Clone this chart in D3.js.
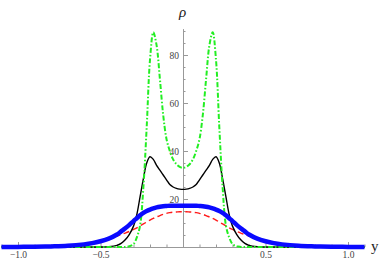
<!DOCTYPE html>
<html>
<head>
<meta charset="utf-8">
<script src="https://cdn.jsdelivr.net/npm/d3@7"></script>
<style>
  body { margin: 0; background: #fff; }
  .axis path, .axis line { stroke: #999; }
</style>
</head>
<body>
<div id="chart"></div>
<script>
// Chart size
var svgWidth = 382;
var svgHeight = 262;

// Sample positions along y (horizontal axis)
var xs = [-1.1, -1.0, -0.9, -0.8, -0.7, -0.6, -0.55, -0.5, -0.45, -0.4, -0.375, -0.35, -0.325, -0.3, -0.28, -0.26, -0.24, -0.22, -0.2, -0.18, -0.16, -0.14, -0.12, -0.1, -0.08, -0.06, -0.04, -0.02, 0,
          0.02, 0.04, 0.06, 0.08, 0.1, 0.12, 0.14, 0.16, 0.18, 0.2, 0.22, 0.24, 0.26, 0.28, 0.3, 0.325, 0.35, 0.375, 0.4, 0.45, 0.5, 0.55, 0.6, 0.7, 0.8, 0.9, 1.0, 1.1];

// Density values
var greenVals = [0, 0, 0, 0, 0, 0, 0, 0, 0, 0, 0, 0.05, 0.3, 1.2, 4, 9, 25, 50, 78, 89.5, 84, 70, 55, 45, 40, 36.5, 34.5, 33.4, 33,
                 33.4, 34.5, 36.5, 40, 45, 55, 70, 84, 89.5, 78, 50, 25, 9, 4, 1.2, 0.3, 0.05, 0, 0, 0, 0, 0, 0, 0, 0, 0, 0, 0];
var blackVals = [0, 0, 0, 0, 0, 0, 0, 0, 0.15, 0.7, 1.5, 3, 5.3, 8.7, 13.5, 21, 28.5, 35, 37.6, 36.5, 34, 32, 30, 28, 26, 25, 24.4, 24.1, 24,
                 24.1, 24.4, 25, 26, 28, 30, 32, 34, 36.5, 37.6, 35, 28.5, 21, 13.5, 8.7, 5.3, 3, 1.5, 0.7, 0.15, 0, 0, 0, 0, 0, 0, 0, 0];
var blueVals = [0, 0.05, 0.1, 0.25, 0.5, 1.1, 1.6, 2.4, 3.5, 5.2, 6.5, 7.8, 9.2, 10.8, 12.0, 13.2, 14.2, 15.0, 15.6, 16.1, 16.5, 16.8, 17.0, 17.1, 17.2, 17.2, 17.2, 17.2, 17.2,
                17.2, 17.2, 17.2, 17.2, 17.1, 17.0, 16.8, 16.5, 16.1, 15.6, 15.0, 14.2, 13.2, 12.0, 10.8, 9.2, 7.8, 6.5, 5.2, 3.5, 2.4, 1.6, 1.1, 0.5, 0.25, 0.1, 0.05, 0];
var redVals = [0.05, 0.1, 0.2, 0.4, 0.8, 1.4, 2.0, 2.7, 3.6, 4.6, 5.2, 5.8, 6.5, 7.3, 8.0, 8.8, 9.6, 10.4, 11.2, 11.9, 12.5, 13.1, 13.6, 14.0, 14.3, 14.5, 14.6, 14.7, 14.7,
               14.7, 14.6, 14.5, 14.3, 14.0, 13.6, 13.1, 12.5, 11.9, 11.2, 10.4, 9.6, 8.8, 8.0, 7.3, 6.5, 5.8, 5.2, 4.6, 3.6, 2.7, 2.0, 1.4, 0.8, 0.4, 0.2, 0.1, 0.05];

// Ticks
var xMajorTicks = [-1.0, -0.5, 0.5, 1.0];
var xTickLabels = ["\u22121.0", "\u22120.5", "0.5", "1.0"];
var yMajorTicks = [20, 40, 60, 80];

var svg = d3.select("#chart")
  .append("svg")
  .attr("width", svgWidth)
  .attr("height", svgHeight);

// Scales
var xScale = d3.scaleLinear().domain([-1.1, 1.1]).range([1.5, 364.5]);
var yScale = d3.scaleLinear().domain([0, 90]).range([247, 31]);

// Minor ticks
var xMinor = d3.range(-11, 12).map(d => d / 10).filter(d => Math.abs(d) > 0.01 && xMajorTicks.indexOf(d) < 0);
var yMinor = d3.range(5, 95, 5).filter(d => yMajorTicks.indexOf(d) < 0);

// X axis
var xAxisG = svg.append("g")
  .attr("class", "axis")
  .attr("transform", `translate(0, ${yScale(0)})`);

xAxisG.call(d3.axisBottom(xScale)
    .tickValues(xMajorTicks)
    .tickSizeInner(-5).tickSizeOuter(0).tickPadding(4)
    .tickFormat((d, i) => xTickLabels[i]));

xAxisG.append("g").call(d3.axisBottom(xScale)
    .tickValues(xMinor)
    .tickSizeInner(-2.5).tickSizeOuter(0)
    .tickFormat(""))
  .select(".domain").remove();

// Y axis
var yAxisG = svg.append("g")
  .attr("class", "axis")
  .attr("transform", `translate(${xScale(0)}, 0)`);

yAxisG.call(d3.axisLeft(d3.scaleLinear().domain([0, 91]).range([247, yScale(91)]))
    .tickValues(yMajorTicks)
    .tickSizeInner(-5).tickSizeOuter(0).tickPadding(4));

yAxisG.append("g").call(d3.axisLeft(yScale)
    .tickValues(yMinor)
    .tickSizeInner(-2.5).tickSizeOuter(0)
    .tickFormat(""))
  .select(".domain").remove();

// Serif tick labels like the original
svg.selectAll(".axis text")
  .attr("font-family", "Liberation Serif, serif")
  .attr("font-size", 9.5)
  .attr("fill", "#444");

// Curves
var series = [
  { vals: redVals, color: "#ff1a1a", width: 1.4, dash: "6,3.5" },
  { vals: blackVals, color: "#000", width: 1.4, dash: null },
  { vals: greenVals, color: "#22ee22", width: 2, dash: "5,2,1.5,2" },
  { vals: blueVals, color: "#0a0aff", width: 4.5, dash: null }
];

var line = d3.line()
  .x(d => xScale(d[0]))
  .y(d => yScale(d[1]))
  .curve(d3.curveCatmullRom.alpha(0.5));

svg.append("g").selectAll("path")
  .data(series)
  .enter()
  .append("path")
  .attr("d", s => line(xs.map((x, i) => [x, s.vals[i]])))
  .attr("fill", "none")
  .attr("stroke", s => s.color)
  .attr("stroke-width", s => s.width)
  .attr("stroke-dasharray", s => s.dash)
  .attr("stroke-linejoin", "round");

// Axis labels
svg.append("text")
  .attr("x", 371)
  .attr("y", 251)
  .attr("font-family", "Liberation Serif, serif")
  .attr("font-size", 15)
  .attr("fill", "#222")
  .text("y");

svg.append("text")
  .attr("x", 179)
  .attr("y", 17)
  .attr("font-family", "Liberation Serif, serif")
  .attr("font-style", "italic")
  .attr("font-size", 15)
  .attr("fill", "#222")
  .text("\u03c1");
</script>
</body>
</html>
